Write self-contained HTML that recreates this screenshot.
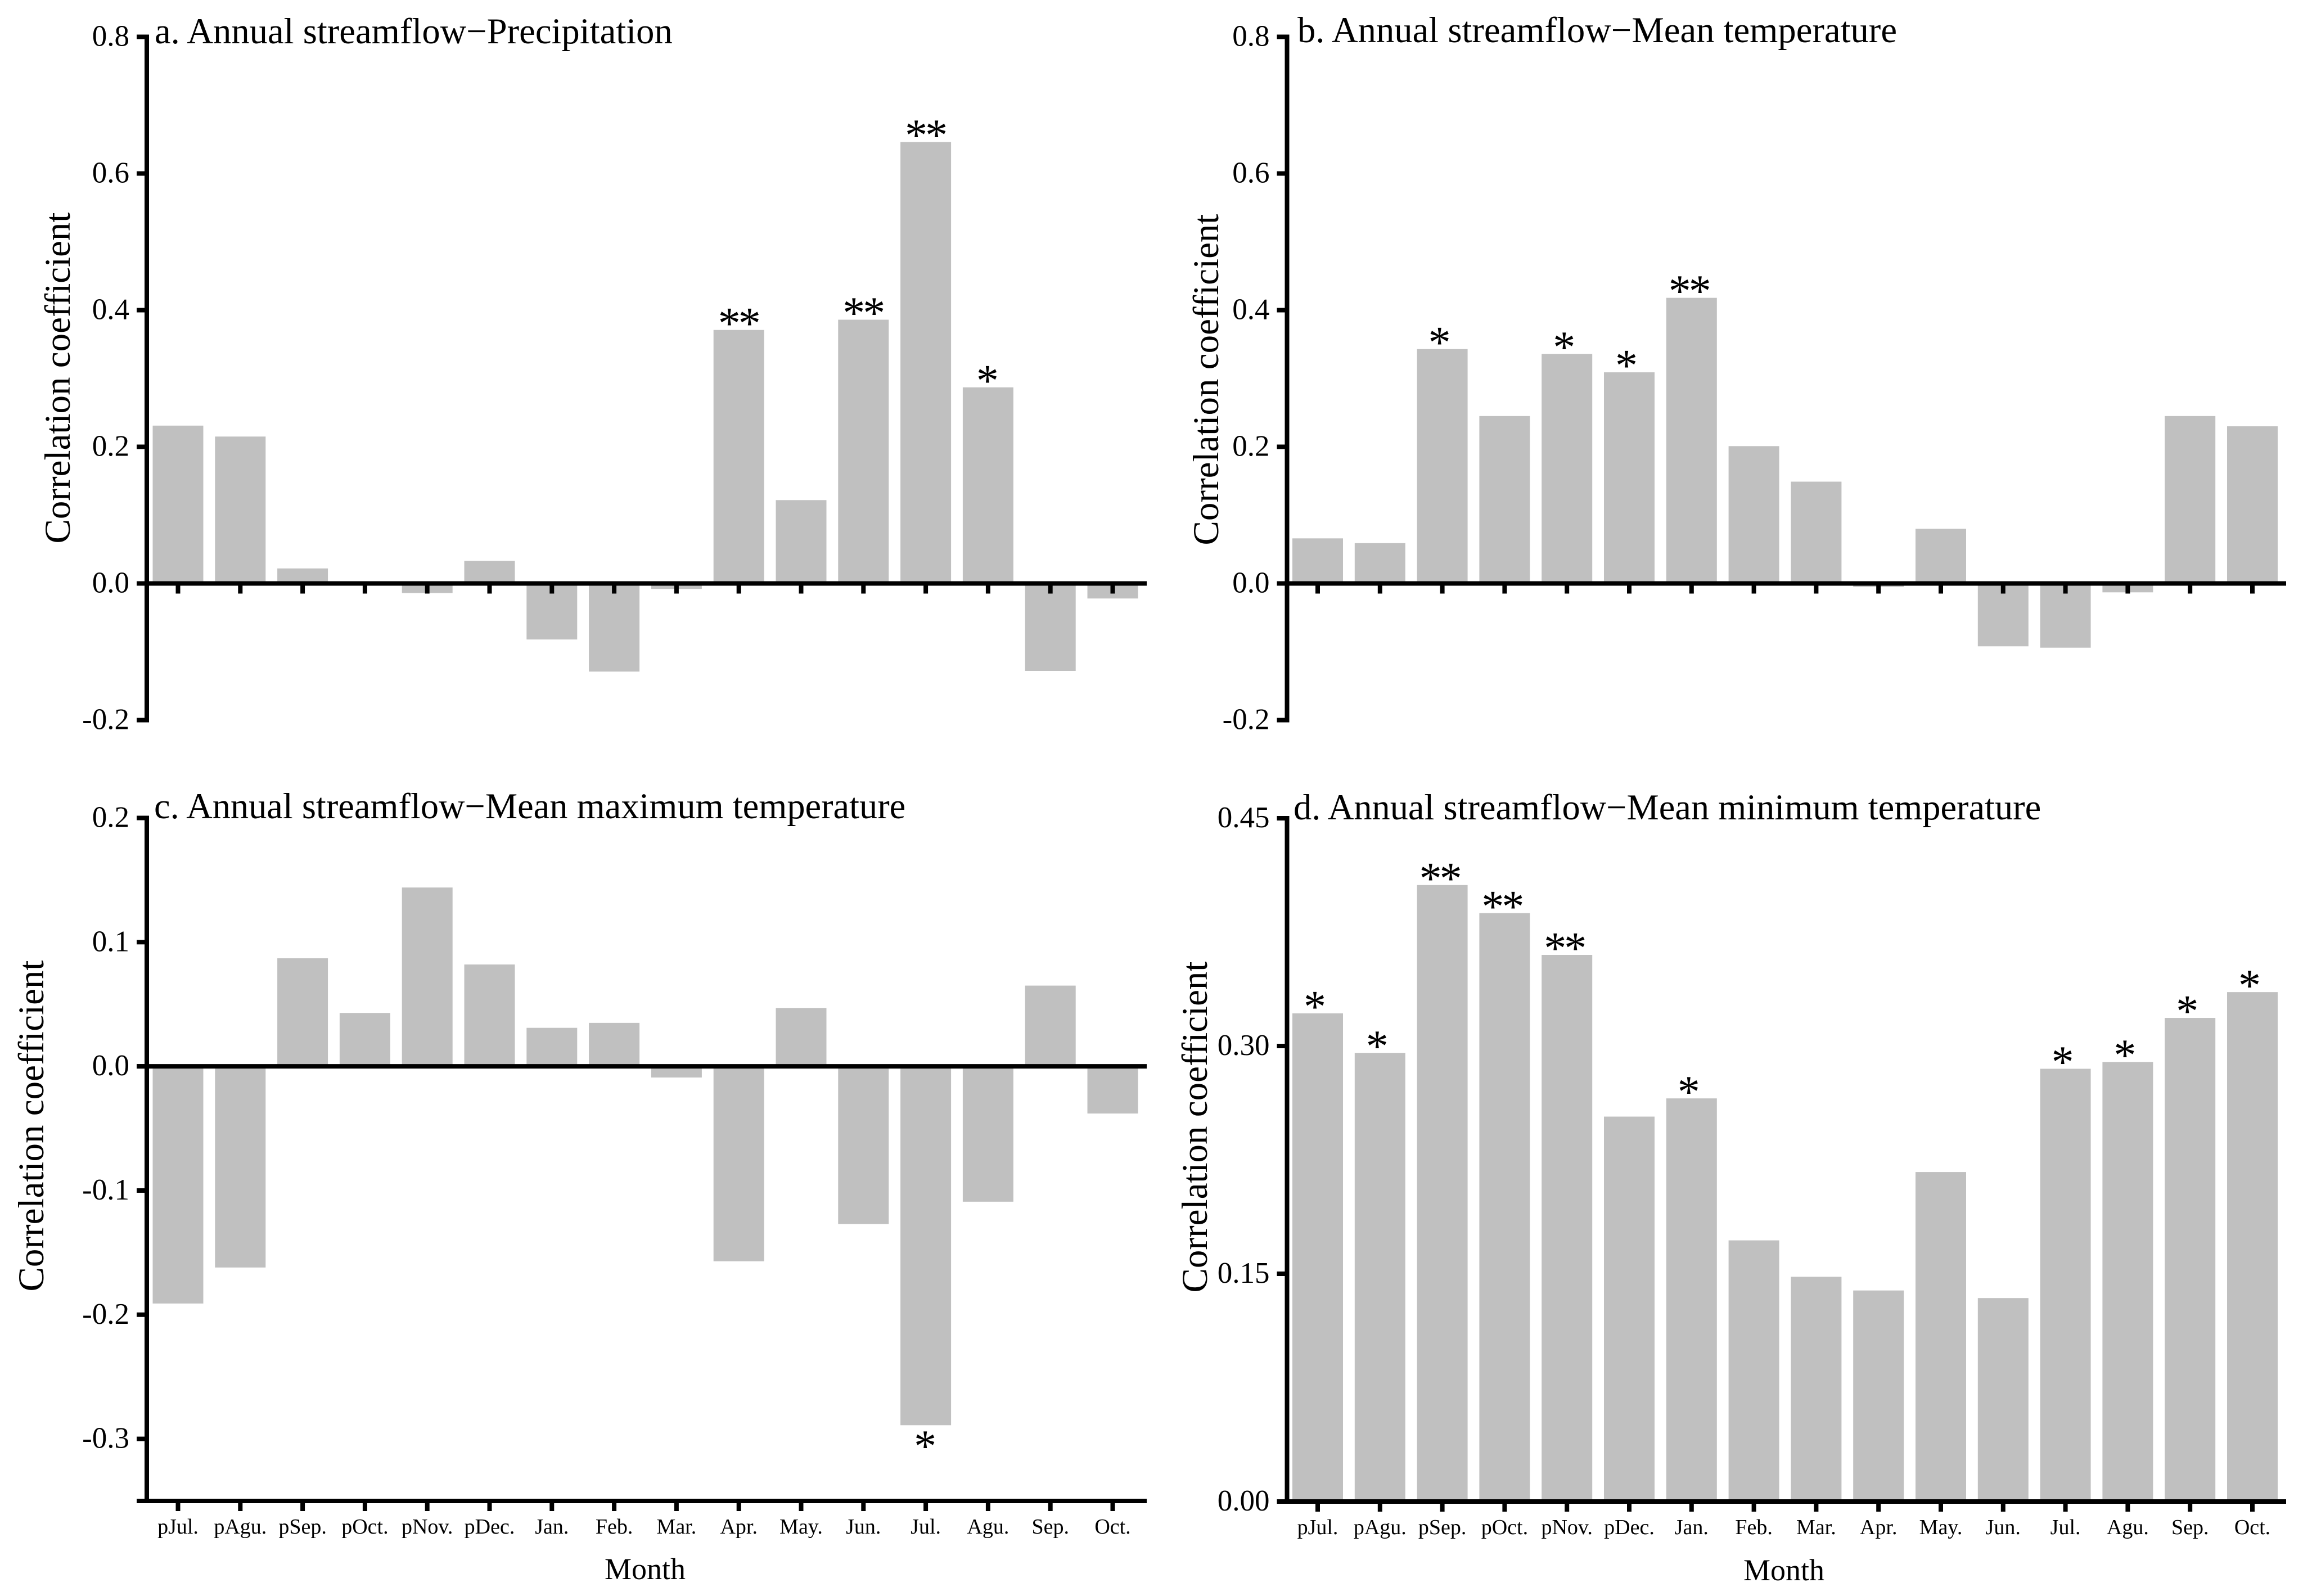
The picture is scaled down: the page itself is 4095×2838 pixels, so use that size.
<!DOCTYPE html>
<html>
<head>
<meta charset="utf-8">
<title>Annual streamflow correlation coefficients</title>
<style>
html,body{margin:0;padding:0;background:#fff;}
svg{display:block;}
text{font-family:"Liberation Serif",serif;fill:#000;}
</style>
</head>
<body>
<svg id="figure" xmlns="http://www.w3.org/2000/svg" width="4095" height="2838" viewBox="0 0 4095 2838">
  <rect x="0" y="0" width="4095" height="2838" fill="#fff"/>
  <text x="275" y="77" font-size="64.6">a. Annual streamflow−Precipitation</text>
  <text x="2307" y="75" font-size="64.6">b. Annual streamflow−Mean temperature</text>
  <text x="274" y="1455" font-size="64.4">c. Annual streamflow−Mean maximum temperature</text>
  <text x="2300" y="1457" font-size="64.4">d. Annual streamflow−Mean minimum temperature</text>
  <text transform="translate(124 672) rotate(-90)" text-anchor="middle" font-size="65">Correlation coefficient</text>
  <text transform="translate(2166 675) rotate(-90)" text-anchor="middle" font-size="65">Correlation coefficient</text>
  <text transform="translate(77 2002) rotate(-90)" text-anchor="middle" font-size="65">Correlation coefficient</text>
  <text transform="translate(2146 2004) rotate(-90)" text-anchor="middle" font-size="65">Correlation coefficient</text>
  <text x="1147" y="2808" text-anchor="middle" font-size="54">Month</text>
  <text x="3172" y="2810" text-anchor="middle" font-size="54">Month</text>
</svg>
<script>
const categories = ["pJul.","pAgu.","pSep.","pOct.","pNov.","pDec.","Jan.","Feb.","Mar.","Apr.","May.","Jun.","Jul.","Agu.","Sep.","Oct."];

const precipValues = [0.231,0.215,0.022,0.000,-0.014,0.033,-0.082,-0.129,-0.008,0.371,0.122,0.386,0.646,0.287,-0.128,-0.022];
const precipStars  = ["","","","","","","","","","**","","**","**","*","",""];
const precipTicks  = [0.8,0.6,0.4,0.2,0.0,-0.2];
const precipTickLabels = ["0.8","0.6","0.4","0.2","0.0","-0.2"];

const meanTempValues = [0.066,0.059,0.343,0.245,0.336,0.309,0.418,0.201,0.149,-0.005,0.080,-0.092,-0.094,-0.013,0.245,0.230];
const meanTempStars  = ["","","*","","*","*","**","","","","","","","","",""];
const meanTempTicks  = [0.8,0.6,0.4,0.2,0.0,-0.2];
const meanTempTickLabels = ["0.8","0.6","0.4","0.2","0.0","-0.2"];

const maxTempValues = [-0.191,-0.162,0.087,0.043,0.144,0.082,0.031,0.035,-0.009,-0.157,0.047,-0.127,-0.289,-0.109,0.065,-0.038];
const maxTempStars  = ["","","","","","","","","","","","","*","","",""];
const maxTempTicks  = [0.2,0.1,0.0,-0.1,-0.2,-0.3];
const maxTempTickLabels = ["0.2","0.1","0.0","-0.1","-0.2","-0.3"];

const minTempValues = [0.3215,0.2955,0.406,0.3875,0.360,0.2535,0.2655,0.172,0.148,0.139,0.217,0.134,0.285,0.2895,0.3185,0.3355];
const minTempStars  = ["*","*","**","**","**","","*","","","","","","*","*","*","*"];
const minTempTicks  = [0.45,0.30,0.15,0.00];
const minTempTickLabels = ["0.45","0.30","0.15","0.00"];

const svgNS = "http://www.w3.org/2000/svg";
const figure = document.getElementById("figure");

function mk(tag, attrs, parent) {
  const el = document.createElementNS(svgNS, tag);
  for (const k in attrs) el.setAttribute(k, attrs[k]);
  parent.appendChild(el);
  return el;
}

function drawPanel(id, values, stars, ticks, tickLabels, frame) {
  const group = mk("g", {}, figure);
  
  

  const yScale = v => frame.yBottom - (v - frame.dMin) / (frame.dMax - frame.dMin) * (frame.yBottom - frame.yTop);
  const xScale = i => frame.x0 + i * frame.step;
  const barWidth = 90;
  const starSize = 80;
  const zeroY = yScale(0);

  values.forEach((v, i) => {
    const yv = yScale(v);
    const bar = mk("rect", {
      x: xScale(i) - barWidth / 2,
      y: Math.min(yv, zeroY),
      width: barWidth,
      height: Math.abs(yv - zeroY),
      fill: "#c0c0c0"
    }, group);
    
    

    if (stars[i]) {
      const cy = v >= 0 ? yv - 23 : yv + 26;
      const star = mk("text", {
        x: xScale(i) + frame.starDx,
        y: cy + 0.47 * starSize,
        "text-anchor": "middle",
        "font-size": starSize,
        "letter-spacing": stars[i].length > 1 ? -4 : 0
      }, group);
      star.textContent = stars[i];
      
      
    }
  });

  const yAxis = mk("rect", {
    x: frame.axisX - 4,
    y: frame.yTop - 4,
    width: 8,
    height: frame.yBottom - frame.yTop + 8,
    fill: "#000"
  }, group);
  
  

  ticks.forEach((t, i) => {
    const ty = yScale(t);
    const tick = mk("rect", {
      x: frame.axisX - 18,
      y: ty - 4,
      width: 18,
      height: 8,
      fill: "#000"
    }, group);
    
    

    const label = mk("text", {
      x: frame.axisX - 31,
      y: ty + 16,
      "text-anchor": "end",
      "font-size": 53
    }, group);
    label.textContent = tickLabels[i];
    
    
  });

  const baseY = frame.xAxisAtZero ? zeroY : frame.yBottom;

  if (!frame.xAxisAtZero && frame.zeroLine) {
    const zeroLine = mk("rect", {
      x: frame.axisX - 18,
      y: zeroY - 4,
      width: frame.xEnd - frame.axisX + 18,
      height: 8,
      fill: "#000"
    }, group);
    
    
  }

  const xAxis = mk("rect", {
    x: frame.axisX - 18,
    y: baseY - 4,
    width: frame.xEnd - frame.axisX + 18,
    height: 8,
    fill: "#000"
  }, group);
  
  

  categories.forEach((c, i) => {
    const tick = mk("rect", {
      x: xScale(i) - 4,
      y: baseY,
      width: 8,
      height: 18,
      fill: "#000"
    }, group);
    
    

    if (frame.showCategoryLabels) {
      const label = mk("text", {
        x: xScale(i),
        y: baseY + 58,
        "text-anchor": "middle",
        "font-size": 38
      }, group);
      label.textContent = c;
      
      
    }
  });
}

drawPanel("a", precipValues, precipStars, precipTicks, precipTickLabels,
  {dMin:-0.2,dMax:0.8,yTop:65.5,yBottom:1280.5,x0:316.5,step:110.8,axisX:261,xEnd:2039,xAxisAtZero:true,showCategoryLabels:false,starDx:-1});
drawPanel("b", meanTempValues, meanTempStars, meanTempTicks, meanTempTickLabels,
  {dMin:-0.2,dMax:0.8,yTop:65.5,yBottom:1280.5,x0:2343,step:110.8,axisX:2288.5,xEnd:4065,xAxisAtZero:true,showCategoryLabels:false,starDx:-5});
drawPanel("c", maxTempValues, maxTempStars, maxTempTicks, maxTempTickLabels,
  {dMin:-0.35,dMax:0.2,yTop:1454.5,yBottom:2669,x0:316.5,step:110.8,axisX:261,xEnd:2039,xAxisAtZero:false,zeroLine:true,showCategoryLabels:true,starDx:-1});
drawPanel("d", minTempValues, minTempStars, minTempTicks, minTempTickLabels,
  {dMin:0,dMax:0.45,yTop:1455,yBottom:2670,x0:2343,step:110.8,axisX:2288.5,xEnd:4065,xAxisAtZero:false,zeroLine:false,showCategoryLabels:true,starDx:-5});
</script>
</body>
</html>
